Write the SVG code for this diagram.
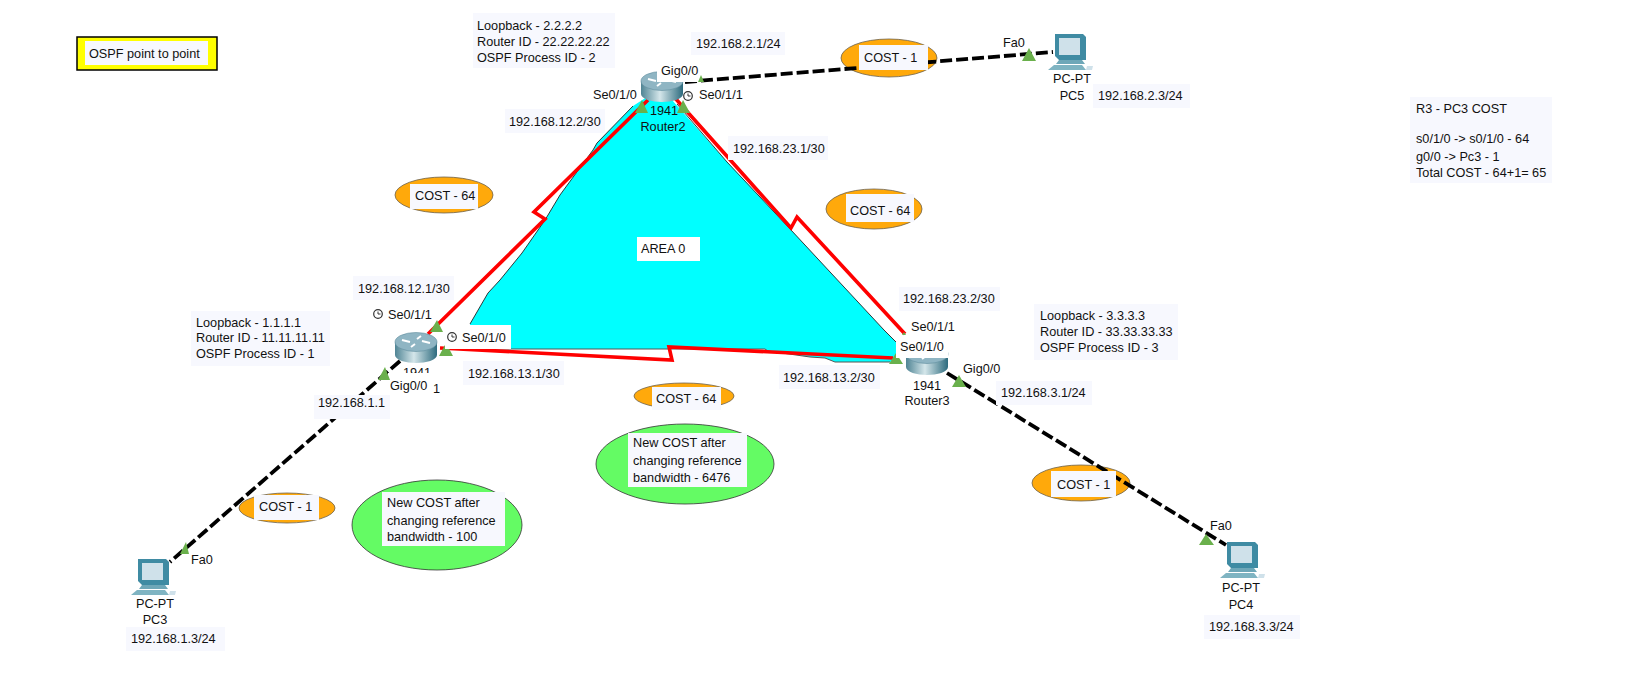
<svg xmlns="http://www.w3.org/2000/svg" width="1647" height="684" viewBox="0 0 1647 684">
<style>
text{font-family:"Liberation Sans",Arial,sans-serif;font-size:12.7px;fill:#111}
.lb{fill:#f7f8fe}
.wb{fill:#fff}
.cost{fill:#ffa90b;stroke:#6b6250;stroke-width:.8}
.green{fill:#64fb64;stroke:#333;stroke-width:.8}
.red{fill:none;stroke:#f00;stroke-width:3.600;stroke-linejoin:miter}
.dash{fill:none;stroke:#000;stroke-width:3.800;stroke-dasharray:12 4}
.tri{fill:#6ab04c}
.mid{text-anchor:middle}
.clk{fill:#fff;stroke:#333;stroke-width:1.200}
</style>
<defs>
<linearGradient id="rg" x1="0" x2="1" y1="0" y2="0"><stop offset="0" stop-color="#4f8494"/><stop offset=".45" stop-color="#d4e6ea"/><stop offset="1" stop-color="#2d6b7e"/></linearGradient>
<g id="router">
<path d="M-21 -7V6C-21 11-10 14 0 14S21 11 21 6V-7Z" fill="url(#rg)"/>
<ellipse cx="0" cy="-7" rx="21" ry="9.500" fill="#8fb5c3" stroke="#5f8d9d" stroke-width=".6"/>
<path d="M-14 -9L-6 -7M14 -6L6 -8M-5 -2L-1 -5M5 -13L1 -10" stroke="#fff" stroke-width="2" fill="none"/>
</g>
<g id="pc">
<path d="M-13 -19H15L18 -16V7H-9L-13 3Z" fill="#3f8ba3"/>
<rect x="-9" y="-15" width="21" height="17" fill="#cfe1ea"/>
<path d="M-9 7H14L17 11H-12Z" fill="#6ea7b8"/>
<path d="M-14 12H14L18 17H-20Z" fill="#7fb4c2"/>
<path d="M19 13h6l-1 4h-6z" fill="#cfe1ea"/>
</g>
<g id="clock"><circle r="4.300" class="clk"/><path d="M0 -2.500V0H2.500" fill="none" stroke="#333"/></g>
</defs>

<g id="area0">
<path d="M633 106L650 95L672 100L727 162L791 230L884 330L896 342V362H835L825 358L810 357L768 351L765 349H669L470 349V324L488 293L500 280L522 253L545 220L560 195L593 150L597 143Z" fill="#00ffff"/>
<path d="M633 106L597 143L593 150L560 195L545 220L522 253L500 280L488 293L470 324M677 104L727 162L791 230L884 330L896 342" fill="none" stroke="#222" stroke-width=".9"/>
<path d="M470 349H765L768 351L810 357L825 358L835 362H890" fill="none" stroke="#555" stroke-width="1"/>
</g>

<g id="cost-ellipses">
<ellipse class="cost" cx="889" cy="58" rx="48" ry="19"/>
<ellipse class="cost" cx="444" cy="195" rx="49" ry="18"/>
<ellipse class="cost" cx="874" cy="209" rx="48" ry="20"/>
<ellipse class="cost" cx="684" cy="396" rx="50" ry="13"/>
<ellipse class="cost" cx="287" cy="508" rx="48" ry="15"/>
<ellipse class="cost" cx="1081" cy="483" rx="49" ry="18"/>
</g>

<g id="connectors">
<path class="red" d="M648 100L534 212L545 219L428 334"/>
<path class="red" d="M675 98L791 228L797 217L905 334"/>
<path class="red" d="M440 348L672 360L669 347L893 358"/>
<path class="dash" d="M685 82L1053 52"/>
<path class="dash" d="M400 361L170 562"/>
<path class="dash" d="M947 373L1226 545"/>
</g>

<g id="r1"><use href="#router" x="416" y="349"/>
<text class="mid" x="417" y="377">1941</text>
<rect class="wb" x="388" y="373" width="44" height="22"/>
<text x="433" y="393">1</text></g>
<g id="r2"><use href="#router" x="662" y="88"/>
<text class="mid" x="664" y="115">1941</text><text class="mid" x="663" y="131">Router2</text></g>
<g id="r3"><use href="#router" x="927" y="361"/>
<text class="mid" x="927" y="390">1941</text><text class="mid" x="927" y="405">Router3</text></g>
<g id="pc3"><use href="#pc" x="151" y="578"/>
<text class="mid" x="155" y="608">PC-PT</text><text class="mid" x="155" y="624">PC3</text></g>
<g id="pc4"><use href="#pc" x="1240" y="561"/>
<text class="mid" x="1241" y="592">PC-PT</text><text class="mid" x="1241" y="609">PC4</text></g>
<g id="pc5"><use href="#pc" x="1068" y="53"/>
<text class="mid" x="1072" y="83">PC-PT</text><text class="mid" x="1072" y="100">PC5</text></g>

<g id="link-markers">
<path class="tri" d="M635 113L642 100L648 113Z"/>
<path class="tri" d="M677 113L683 100L690 113Z"/>
<path class="tri" d="M698 82L701 75L704 82Z"/>
<path class="tri" d="M1022 61L1029 48L1036 61Z"/>
<path class="tri" d="M430 332L437 320L443 332Z"/>
<path class="tri" d="M439 356L446 343L453 356Z"/>
<path class="tri" d="M378 380L385 367L390 380Z"/>
<path class="tri" d="M180 554L186 542L189 554Z"/>
<path class="tri" d="M889 364L896 353L903 364Z"/>
<path class="tri" d="M902 335L904 332L906 335Z"/>
<path class="tri" d="M952 387L959 375L966 387Z"/>
<path class="tri" d="M1199 545L1206 534L1214 545Z"/>
</g>

<g id="ospf-title">
<rect x="77" y="37" width="140" height="33" fill="#ff0" stroke="#000" stroke-width="1.500"/>
<rect class="lb" x="85" y="41" width="123" height="24"/>
<text x="89" y="58">OSPF point to point</text>
</g>

<g id="note-r2"><rect class="lb" x="473" y="13" width="142" height="55"/>
<text x="477" y="30">Loopback - 2.2.2.2</text><text x="477" y="46">Router ID - 22.22.22.22</text><text x="477" y="62">OSPF Process ID - 2</text></g>
<g id="note-r1"><rect class="lb" x="191" y="311" width="139" height="55"/>
<text x="196" y="327">Loopback - 1.1.1.1</text><text x="196" y="342">Router ID - 11.11.11.11</text><text x="196" y="358">OSPF Process ID - 1</text></g>
<g id="note-r3"><rect class="lb" x="1034" y="304" width="144" height="56"/>
<text x="1040" y="320">Loopback - 3.3.3.3</text><text x="1040" y="336">Router ID - 33.33.33.33</text><text x="1040" y="352">OSPF Process ID - 3</text></g>
<g id="note-cost"><rect class="lb" x="1410" y="97" width="142" height="86"/>
<text x="1416" y="113">R3 - PC3 COST</text><text x="1416" y="143">s0/1/0 -&gt; s0/1/0 - 64</text><text x="1416" y="161">g0/0 -&gt; Pc3 - 1</text><text x="1416" y="177">Total COST - 64+1= 65</text></g>

<g id="ip-labels">
<rect class="lb" x="691" y="32" width="94" height="23"/><text x="696" y="48">192.168.2.1/24</text>
<rect class="lb" x="505" y="109" width="100" height="24"/><text x="509" y="126">192.168.12.2/30</text>
<rect class="lb" x="728" y="136" width="100" height="24"/><text x="733" y="153">192.168.23.1/30</text>
<rect class="lb" x="353" y="276" width="101" height="24"/><text x="358" y="293">192.168.12.1/30</text>
<rect class="lb" x="899" y="287" width="101" height="24"/><text x="903" y="303">192.168.23.2/30</text>
<rect class="lb" x="463" y="361" width="101" height="24"/><text x="468" y="378">192.168.13.1/30</text>
<rect class="lb" x="779" y="365" width="101" height="24"/><text x="783" y="382">192.168.13.2/30</text>
<rect class="lb" x="996" y="381" width="96" height="24"/><text x="1001" y="397">192.168.3.1/24</text>
<rect class="lb" x="314" y="395" width="76" height="24"/><text x="318" y="407">192.168.1.1</text>
<rect class="lb" x="1093" y="84" width="97" height="24"/><text x="1098" y="100">192.168.2.3/24</text>
<rect class="lb" x="126" y="627" width="99" height="24"/><text x="131" y="643">192.168.1.3/24</text>
<rect class="lb" x="1204" y="615" width="96" height="24"/><text x="1209" y="631">192.168.3.3/24</text>
</g>

<g id="device-labels">
<rect class="wb" x="657" y="63" width="41" height="19"/><text x="661" y="75">Gig0/0</text>
<text x="593" y="99">Se0/1/0</text>
<use href="#clock" x="688" y="96"/><text x="699" y="99">Se0/1/1</text>
<text x="1003" y="47">Fa0</text>
<use href="#clock" x="378" y="314"/><text x="388" y="319">Se0/1/1</text>
<rect class="wb" x="445" y="325" width="66" height="24"/>
<use href="#clock" x="452" y="337"/><text x="462" y="342">Se0/1/0</text>
<text x="390" y="390">Gig0/0</text>
<text x="191" y="564">Fa0</text>
<text x="911" y="331">Se0/1/1</text>
<rect class="wb" x="896" y="340" width="52" height="18"/><text x="900" y="351">Se0/1/0</text>
<text x="963" y="373">Gig0/0</text>
<text x="1210" y="530">Fa0</text>
</g>

<g id="cost-labels">
<rect class="lb" x="859" y="45" width="69" height="25"/><text x="864" y="62">COST - 1</text>
<rect class="lb" x="410" y="184" width="68" height="25"/><text x="415" y="200">COST - 64</text>
<rect class="lb" x="846" y="194" width="68" height="28"/><text x="850" y="215">COST - 64</text>
<rect class="lb" x="652" y="387" width="69" height="23"/><text x="656" y="403">COST - 64</text>
<rect class="lb" x="254" y="495" width="65" height="25"/><text x="259" y="511">COST - 1</text>
<rect class="lb" x="1051" y="471" width="65" height="26"/><text x="1057" y="489">COST - 1</text>
</g>

<g id="new-cost">
<ellipse class="green" cx="685" cy="464" rx="89" ry="40"/><rect class="lb" x="628" y="433" width="119" height="54"/>
<text x="633" y="447">New COST after</text><text x="633" y="465">changing reference</text><text x="633" y="482">bandwidth - 6476</text>
<ellipse class="green" cx="437" cy="525" rx="85" ry="45"/><rect class="lb" x="382" y="492" width="123" height="54"/>
<text x="387" y="507">New COST after</text><text x="387" y="525">changing reference</text><text x="387" y="541">bandwidth - 100</text>
</g>

<g id="area-label"><rect class="wb" x="637" y="237" width="63" height="24"/><text x="641" y="253">AREA 0</text></g>
</svg>
